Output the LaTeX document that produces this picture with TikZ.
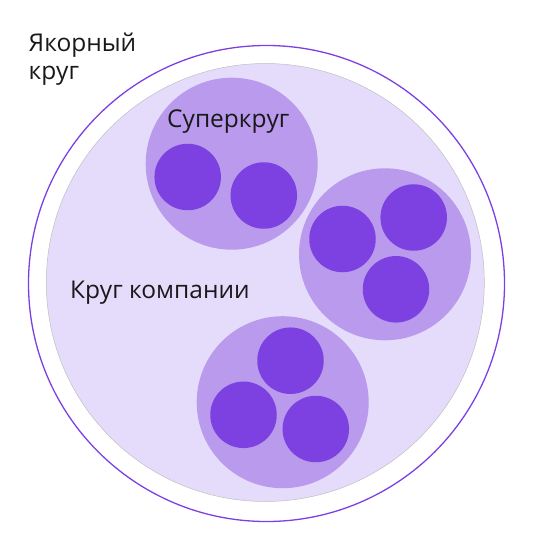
\documentclass[tikz,border=0pt]{standalone}
\usepackage{fontspec}
\setmainfont{Open Sans}
\usepackage{xcolor}
\usepackage{tikz}
\usetikzlibrary{positioning}
\definecolor{ringpurple}{RGB}{124,64,226}
\definecolor{companyfill}{RGB}{229,220,251}
\definecolor{superfill}{RGB}{185,154,237}
\definecolor{memberfill}{RGB}{124,65,224}
\tikzstyle{anchorring} = [circle, draw=ringpurple, line width=1.3pt, minimum size=476pt, inner sep=0pt]
\tikzstyle{company} = [circle, draw=black!25, line width=0.5pt, fill=companyfill, minimum size=438pt, inner sep=0pt]
\tikzstyle{super} = [circle, fill=superfill, minimum size=172pt, inner sep=0pt]
\tikzstyle{member} = [circle, fill=memberfill, minimum size=66.5pt, inner sep=0pt]
\tikzstyle{label} = [anchor=base west, inner sep=0pt, font=\fontsize{24.5}{27.5}\selectfont, text=black!90]

\begin{document}
\begin{tikzpicture}[x=1pt, y=-1pt]
      \useasboundingbox (0,0) rectangle (535,551);

      % Rings
      \node[anchorring] (anchor) at (266.5,283.5) {};
      \node[company] (companycircle) at (265.3,282.5) {};

      % Super circles
      \node[super] (superA) at (231.7,163.7) {};
      \node[super] (superB) at (385,254.3) {};
      \node[super] (superC) at (282.7,402.2) {};

      % Members
      \node[member] (a1) at (187.7,177) {};
      \node[member] (a2) at (263.8,195.5) {};
      \node[member] (b1) at (413.7,217.5) {};
      \node[member] (b2) at (342.5,239) {};
      \node[member] (b3) at (396,289.3) {};
      \node[member] (c1) at (290.5,360.7) {};
      \node[member] (c2) at (243.5,414.8) {};
      \node[member] (c3) at (315.8,429) {};

      % Labels
      \node[label, align=left] (anchortext) at (28.5,79) {Якорный\\круг};
      \node[label] (supertext) at (167,127.7) {Суперкруг};
      \node[label] (companytext) at (70,298) {Круг компании};
\end{tikzpicture}
\end{document}
